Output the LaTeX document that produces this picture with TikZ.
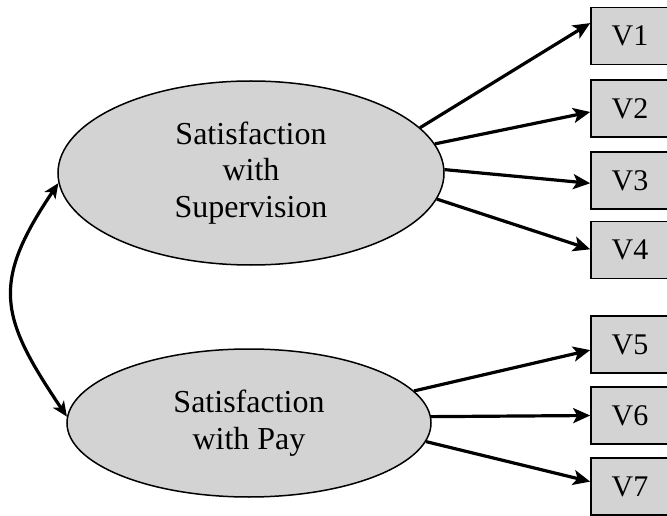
\documentclass[tikz,border=0pt]{standalone}
\usepackage{fontspec}
\setmainfont{Liberation Serif}
\usetikzlibrary{shapes.geometric,arrows.meta}
\definecolor{latentgray}{RGB}{211,211,211}
\begin{document}
\begin{tikzpicture}[x=1pt,y=1pt,
  latent/.style={ellipse,draw,fill=latentgray,line width=1.5pt,inner sep=0pt,
    align=center,font=\fontsize{32}{36.7}\selectfont},
  item/.style={rectangle,draw,fill=latentgray,line width=1.6pt,inner sep=0pt,
    minimum width=78pt,minimum height=57pt,font=\fontsize{30}{34}\selectfont},
  loading/.style={line width=3.2pt,-{Stealth[length=17pt,width=15pt,inset=4pt]}},
  corr/.style={line width=3.2pt,{Stealth[length=15pt,width=13pt,inset=4pt]}-{Stealth[length=15pt,width=13pt,inset=4pt]}}]
\useasboundingbox (0,0) rectangle (667,515);
\node[latent,minimum width=386pt,minimum height=184pt] (sup) at (251,342) {Satisfaction\\with\\Supervision};
\node[latent,minimum width=364pt,minimum height=148pt] (pay) at (249,92) {Satisfaction\\with Pay};

\node[item] (v1) at (630,479) {V1};
\node[item] (v2) at (630,406.5) {V2};
\node[item] (v3) at (630,334.5) {V3};
\node[item] (v4) at (630,265) {V4};
\node[item] (v5) at (630,170.5) {V5};
\node[item] (v6) at (630,99.5) {V6};
\node[item] (v7) at (630,28.5) {V7};

\draw[loading] (sup.15) -- (v1.162);
\draw[loading] (sup.9) -- (v2.185);
\draw[loading] (sup.1) -- (v3.184);
\draw[loading] (sup.-8) -- (v4.179);
\draw[loading] (pay.11) -- (v5.188);
\draw[loading] (pay.2) -- (v6.180);
\draw[loading] (pay.-6) -- (v7.173);

\draw[corr] (sup.183) to[out=236,in=124,looseness=1.32] (pay.178);
\end{tikzpicture}
\end{document}
